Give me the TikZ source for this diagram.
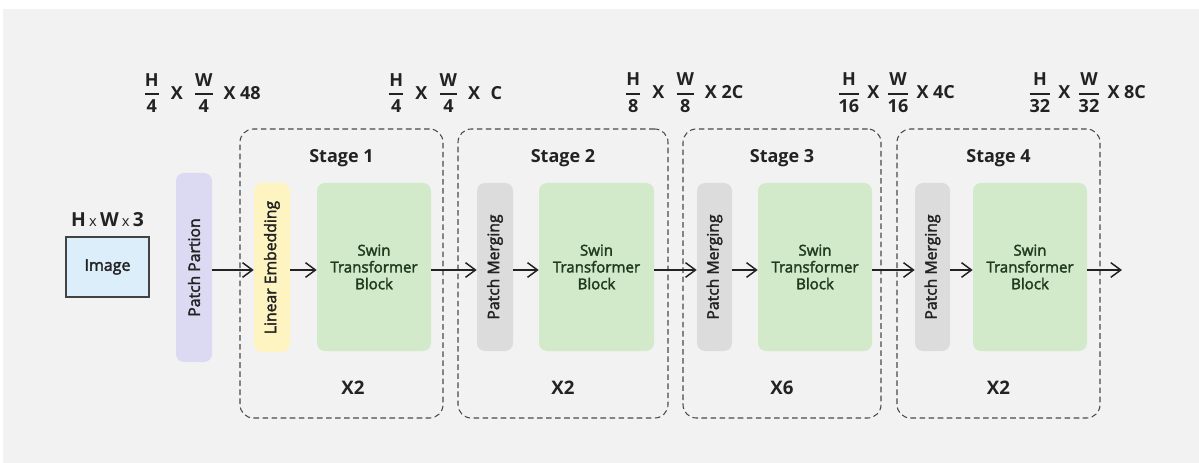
\documentclass[tikz,border=0pt]{standalone}
\usepackage{fontspec}
\usepackage{amsmath}
\setmainfont{Open Sans}
\newfontfamily\semib[FakeBold=2.2]{Open Sans}
\usetikzlibrary{arrows.meta}

\definecolor{bgc}{HTML}{F2F2F2}
\definecolor{imgfill}{HTML}{DDEEFB}
\definecolor{ppfill}{HTML}{DCD9F2}
\definecolor{lefill}{HTML}{FDF4C2}
\definecolor{pmfill}{HTML}{DCDCDC}
\definecolor{swfill}{HTML}{D3EACA}
\definecolor{swtext}{HTML}{1F3A1F}
\definecolor{ink}{HTML}{222222}
\definecolor{dashc}{HTML}{4A4A4A}

% stacked fraction with a heavy bar
\newcommand{\stk}[2]{$\displaystyle\genfrac{}{}{1.2pt}{0}{\mbox{#1}}{\mbox{#2}}$}

\begin{document}
\begin{tikzpicture}[x=0.75pt,y=-0.75pt,
  blk/.style={rounded corners=6pt, inner sep=0pt, draw=none},
  narrow/.style={blk, minimum width={#1*0.75pt}},
  swin/.style={blk, fill=swfill, minimum height={168*0.75pt}, align=center,
    text=swtext, font=\semib\fontsize{11.3}{12.6}\selectfont},
  vlab/.style={rotate=90, text=ink, font=\semib\fontsize{11.8}{13}\selectfont},
  stagebox/.style={draw=dashc, line width=0.8pt, dash pattern=on 4.2pt off 2.6pt,
    rounded corners=10pt, inner sep=0pt, minimum height={289*0.75pt}},
  title/.style={text=ink, font=\bfseries\fontsize{13.5}{15}\selectfont},
  rep/.style={text=ink, font=\bfseries\fontsize{14}{16}\selectfont},
  dims/.style={text=ink, font=\bfseries\fontsize{13.5}{15}\selectfont},
  arr/.style={draw=ink, line width=1.1pt,
    -{Straight Barb[length=7.5pt,width=11pt,line width=1.1pt]}}
]
\useasboundingbox (0,0) rectangle (1199,463);
\fill[white] (0,0) rectangle (1199,463);
\fill[bgc] (3,9) rectangle (1199,463);

% stage frames
\node[stagebox, minimum width={203*0.75pt}] (s1) at (341.5,273.5) {};
\node[stagebox, minimum width={210*0.75pt}] (s2) at (563,273.5) {};
\node[stagebox, minimum width={198*0.75pt}] (s3) at (782,273.5) {};
\node[stagebox, minimum width={203*0.75pt}] (s4) at (998.5,273.5) {};

\node[title] (t1) at (341.5,158) {Stage 1};
\node[title] (t2) at (563,158) {Stage 2};
\node[title] (t3) at (782,158) {Stage 3};
\node[title] (t4) at (998.5,158) {Stage 4};

\node[rep] (r1) at (353,388) {X2};
\node[rep] (r2) at (563,388) {X2};
\node[rep] (r3) at (782,388) {X6};
\node[rep] (r4) at (998.5,388) {X2};

% input image
\node[draw=ink!85, line width=1.1pt, fill=imgfill, minimum width={83*0.75pt},
  minimum height={60*0.75pt}, inner sep=0pt, text=ink,
  font=\semib\fontsize{12}{14}\selectfont] (img) at (107.5,267) {Image};
\node[dims, font=\bfseries\fontsize{14.5}{16}\selectfont] (imgdim) at (107.5,220)
  {H\,{\mdseries\fontsize{11}{12}\selectfont x}\,W\,{\mdseries\fontsize{11}{12}\selectfont x}\,3};

% patch partition
\node[narrow=36, fill=ppfill, minimum height={189*0.75pt},
  label={[vlab]center:Patch Partion}] (pp) at (194,267.5) {};

% stage 1
\node[narrow=36, fill=lefill, minimum height={169*0.75pt},
  label={[vlab]center:Linear Embedding}] (le) at (272,267.5) {};
\node[swin, minimum width={114*0.75pt}] (sw1) at (374,267) {Swin\\Transformer\\Block};

% stage 2
\node[narrow=36, fill=pmfill, minimum height={168*0.75pt},
  label={[vlab]center:Patch Merging}] (pm2) at (495,267) {};
\node[swin, minimum width={115*0.75pt}] (sw2) at (596.5,267) {Swin\\Transformer\\Block};

% stage 3
\node[narrow=35, fill=pmfill, minimum height={168*0.75pt},
  label={[vlab]center:Patch Merging}] (pm3) at (714.5,267) {};
\node[swin, minimum width={114*0.75pt}] (sw3) at (815,267) {Swin\\Transformer\\Block};

% stage 4
\node[narrow=35, fill=pmfill, minimum height={168*0.75pt},
  label={[vlab]center:Patch Merging}] (pm4) at (932.5,267) {};
\node[swin, minimum width={114*0.75pt}] (sw4) at (1030,267) {Swin\\Transformer\\Block};

% feature map sizes
\node[dims] (d0) at (202,93) {\stk{H}{4}\hspace{8pt}X\hspace{8pt}\stk{W}{4}\hspace{7pt}X 48};
\node[dims] (d1) at (445,93) {\stk{H}{4}\hspace{8pt}X\hspace{8pt}\stk{W}{4}\hspace{7pt}X\hspace{8pt}C};
\node[dims] (d2) at (684,93) {\stk{H}{8}\hspace{8pt}X\hspace{8pt}\stk{W}{8}\hspace{7pt}X 2C};
\node[dims] (d3) at (896,93) {\stk{H}{16}\hspace{5pt}X\hspace{5pt}\stk{W}{16}\hspace{5pt}X 4C};
\node[dims] (d4) at (1087,93) {\stk{H}{32}\hspace{5pt}X\hspace{5pt}\stk{W}{32}\hspace{5pt}X 8C};

% data flow
\coordinate (ay) at (0,270);
\coordinate (out) at (1122,270);
\draw[arr] (pp.east |- ay) -- (le.west |- ay);
\draw[arr] (le.east |- ay) -- (sw1.west |- ay);
\draw[arr] (sw1.east |- ay) -- (pm2.west |- ay);
\draw[arr] (pm2.east |- ay) -- (sw2.west |- ay);
\draw[arr] (sw2.east |- ay) -- (pm3.west |- ay);
\draw[arr] (pm3.east |- ay) -- (sw3.west |- ay);
\draw[arr] (sw3.east |- ay) -- (pm4.west |- ay);
\draw[arr] (pm4.east |- ay) -- (sw4.west |- ay);
\draw[arr] (sw4.east |- ay) -- (out);
\end{tikzpicture}
\end{document}
